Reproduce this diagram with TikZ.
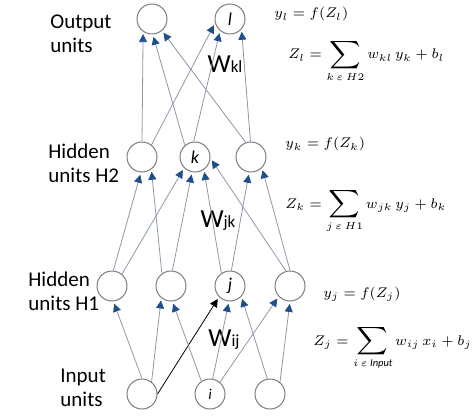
\documentclass[tikz,border=0pt]{standalone}
\usepackage{fontspec}
\setmainfont{Carlito}
\usepackage{amsmath}
\usepackage{graphicx}
\usepackage{tikz}
\usetikzlibrary{arrows.meta}
\definecolor{tipblue}{RGB}{31,78,140}
\definecolor{wiregray}{RGB}{140,152,170}
\definecolor{ringgray}{RGB}{125,125,125}
\newcommand{\bigsum}{\mathop{\vcenter{\hbox{\scalebox{1.3}{$\displaystyle\sum$}}}}\limits}

\begin{document}
\begin{tikzpicture}[x=0.5pt,y=-0.5pt, every node/.style={font=\fontsize{10.5}{12}\selectfont},
    unit/.style={draw=ringgray, circle, fill=white, minimum size=15pt, inner sep=0pt, line width=0.5pt, font=\fontsize{9}{9}\selectfont\itshape},
    wire/.style={draw=wiregray, line width=0.4pt, shorten >=1.2pt, -{Triangle[length=4pt,width=4pt,color=tipblue]}},
    picked/.style={wire, draw=black, -{Triangle[length=4pt,width=4pt,color=black]}},
    layer/.style={align=left, anchor=west, inner sep=0pt},
    eqn/.style={anchor=base west, inner sep=0pt, font=\fontsize{7.5}{9}\selectfont}]
    \useasboundingbox (0,0) rectangle (474,416);
    % units
    \node[unit] (o1) at (152,19) {};
    \node[unit] (ol) at (230,19) {l};
    \node[unit] (k1) at (142,157) {};
    \node[unit] (kk) at (195,157) {k};
    \node[unit] (k3) at (251,157) {};
    \node[unit] (j1) at (112,286) {};
    \node[unit] (j2) at (171,286) {};
    \node[unit] (jj) at (230,286) {j};
    \node[unit] (j4) at (290,286) {};
    \node[unit] (i1) at (142,394) {};
    \node[unit, font=\fontsize{7.5}{8}\selectfont\itshape] (ii) at (210,394) {i};
    \node[unit] (i3) at (270,394) {};
    % layer names
    \node[layer] (lout) at (50,34) {Output\\units};
    \node[layer] (lh2) at (48,163) {Hidden\\units H2};
    \node[layer] (lh1) at (28,291) {Hidden\\units H1};
    \node[layer] (lin) at (60,388) {Input\\units};
    % weights
    \node (wkl) at (225,64) {\fontsize{13}{13}\selectfont W\fontsize{8.5}{9}\selectfont kl};
    \node (wjk) at (218,221) {\fontsize{13}{13}\selectfont W\fontsize{8.5}{9}\selectfont jk};
    \node (wij) at (224,340) {\fontsize{13}{13}\selectfont W\fontsize{8.5}{9}\selectfont ij};
    % formulas
    \node[eqn] (yl) at (274,18) {$y_l = f(Z_l)$};
    \node[eqn] (zl) at (288,59) {$Z_l = \bigsum_{k\,\varepsilon\, H2} w_{kl}\, y_k + b_l$};
    \node[eqn] (yk) at (285,148) {$y_k = f(Z_k)$};
    \node[eqn] (zk) at (285,208) {$Z_k = \bigsum_{j\,\varepsilon\, H1} w_{jk}\, y_j + b_k$};
    \node[eqn] (yj) at (323,297) {$y_j = f(Z_j)$};
    \node[eqn] (zj) at (313,345) {$Z_j = \bigsum_{i\,\varepsilon\, \mathit{Input}} w_{ij}\, x_i + b_j$};
    % H2 -> output
    \draw[wire] (k1.90) -- (o1.235);
    \draw[wire] (kk.131) -- (o1.273);
    \draw[wire] (k3.110) -- (o1.310);
    \draw[wire] (k1.52) -- (ol.195);
    \draw[wire] (kk.95) -- (ol.230);
    \draw[wire] (k3.92) -- (ol.318);
    % H1 -> H2
    \draw[wire] (j1.85) -- (k1.266);
    \draw[wire] (j1.50) -- (kk.225);
    \draw[wire] (j2.126) -- (k1.307);
    \draw[wire] (j2.85) -- (kk.259);
    \draw[wire] (jj.124) -- (kk.305);
    \draw[wire] (jj.85) -- (k3.263);
    \draw[wire] (j4.105) -- (kk.355);
    \draw[wire] (j4.90) -- (k3.315);
    % input -> H1
    \draw[wire] (i1.90) -- (j1.275);
    \draw[wire] (i1.52) -- (j2.231);
    \draw[picked] (i1.0) -- (jj.225);
    \draw[wire] (ii.124) -- (j2.275);
    \draw[wire] (ii.80) -- (jj.266);
    \draw[wire] (ii.50) -- (j4.223);
    \draw[wire] (i3.100) -- (jj.317);
    \draw[wire] (i3.50) -- (j4.270);
\end{tikzpicture}
\end{document}
